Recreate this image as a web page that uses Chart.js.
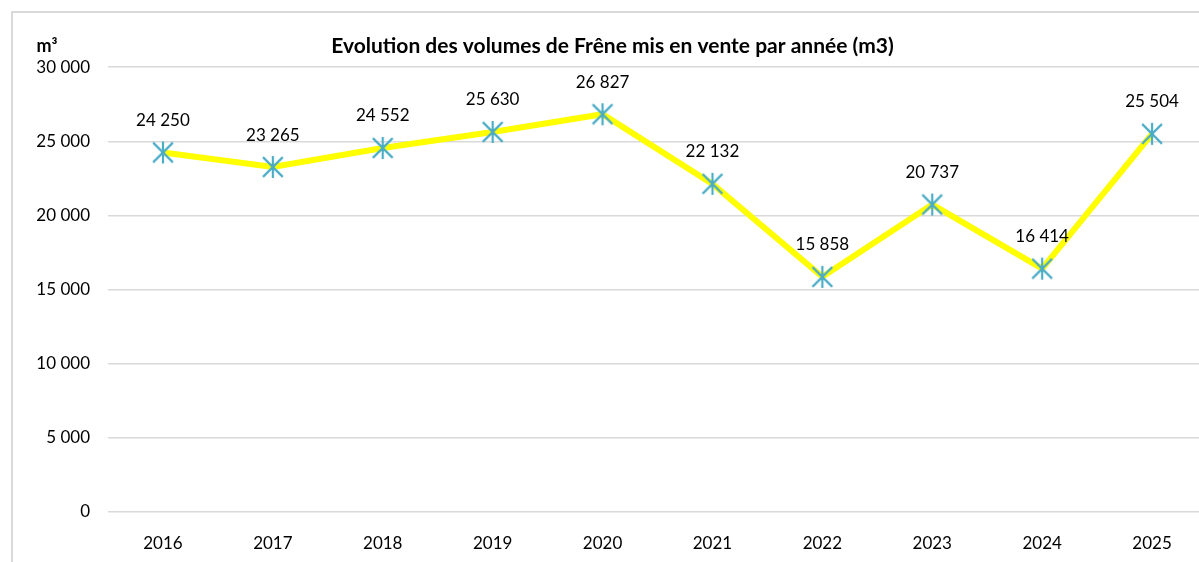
<!DOCTYPE html>
<html>
<head>
<meta charset="utf-8">
<script src="https://cdn.jsdelivr.net/npm/chart.js@4"></script>
<style>
  html, body { margin: 0; padding: 0; background: #fff; overflow: hidden; }
  #wrap { position: relative; width: 1199px; height: 562px; overflow: hidden; }
  #frame { position: absolute; left: 11px; top: 11px; width: 1300px; height: 700px;
           border-top: 2px solid #d9d9d9; border-left: 2px solid #d9d9d9; }
  #chart { position: absolute; left: 0; top: 0; }
</style>
</head>
<body>
<div id="wrap">
  <div id="frame"></div>
  <canvas id="chart" width="1225" height="562"></canvas>
</div>
<script>
const years = ['2016', '2017', '2018', '2019', '2020', '2021', '2022', '2023', '2024', '2025'];
const volumes = [24250, 23265, 24552, 25630, 26827, 22132, 15858, 20737, 16414, 25504];
const yTicks = [0, 5000, 10000, 15000, 20000, 25000, 30000];

const FONT = 'Lato, "Open Sans", sans-serif';

function formatNumber(n) {
  return String(n).replace(/\B(?=(\d{3})+(?!\d))/g, ' ');
}

// Excel-like star marker: an X with a vertical stroke
function makeStar(size, color) {
  const c = document.createElement('canvas');
  c.width = size;
  c.height = size;
  const g = c.getContext('2d');
  const m = size / 2;
  const r = m - 1;
  g.strokeStyle = color;
  g.lineWidth = 2.2;
  g.beginPath();
  g.moveTo(m - r * 0.9, m - r * 0.9); g.lineTo(m + r * 0.9, m + r * 0.9);
  g.moveTo(m + r * 0.9, m - r * 0.9); g.lineTo(m - r * 0.9, m + r * 0.9);
  g.moveTo(m, m - r); g.lineTo(m, m + r);
  g.stroke();
  return c;
}

const labelPlugin = {
  id: 'valueLabels',
  afterDatasetsDraw(chart) {
    const ctx = chart.ctx;
    const meta = chart.getDatasetMeta(0);
    ctx.save();
    ctx.font = '17px ' + FONT;
    ctx.fillStyle = '#000';
    ctx.textAlign = 'center';
    ctx.textBaseline = 'middle';
    meta.data.forEach(function(pt, i) {
      ctx.fillText(formatNumber(volumes[i]), pt.x, pt.y - 32);
    });
    // unit label above the y axis
    ctx.font = 'bold 18px ' + FONT;
    ctx.fillText('m³', 47, 46);
    ctx.restore();
  }
};

const ctx = document.getElementById('chart').getContext('2d');
new Chart(ctx, {
  type: 'line',
  data: {
    labels: years,
    datasets: [{
      data: volumes,
      borderColor: '#ffff00',
      borderWidth: 6,
      tension: 0,
      pointStyle: makeStar(24, '#4bacc6'),
      pointRadius: 12,
      pointHoverRadius: 12
    }]
  },
  options: {
    responsive: false,
    animation: false,
    layout: { padding: 0 },
    plugins: {
      legend: { display: false },
      tooltip: { enabled: false },
      title: {
        display: true,
        text: 'Evolution des volumes de Frêne mis en vente par année (m3)',
        color: '#000',
        font: { family: FONT, size: 21, weight: 'bold' },
        padding: { top: 34, bottom: 8 }
      }
    },
    scales: {
      x: {
        offset: true,
        grid: { display: false },
        border: { display: false },
        ticks: { color: '#000', font: { family: FONT, size: 17 }, padding: 13 },
        afterFit(scale) { scale.height = 50; }
      },
      y: {
        min: 0,
        max: 30000,
        afterBuildTicks(scale) { scale.ticks = yTicks.map(v => ({ value: v })); },
        grid: { color: '#d9d9d9', lineWidth: 1.5, drawTicks: false },
        border: { display: false },
        ticks: {
          color: '#000',
          font: { family: FONT, size: 17 },
          padding: 18,
          callback: function(v) { return formatNumber(v); }
        },
        afterFit(scale) { scale.width = 108; }
      }
    }
  },
  plugins: [labelPlugin]
});
</script>
</body>
</html>
